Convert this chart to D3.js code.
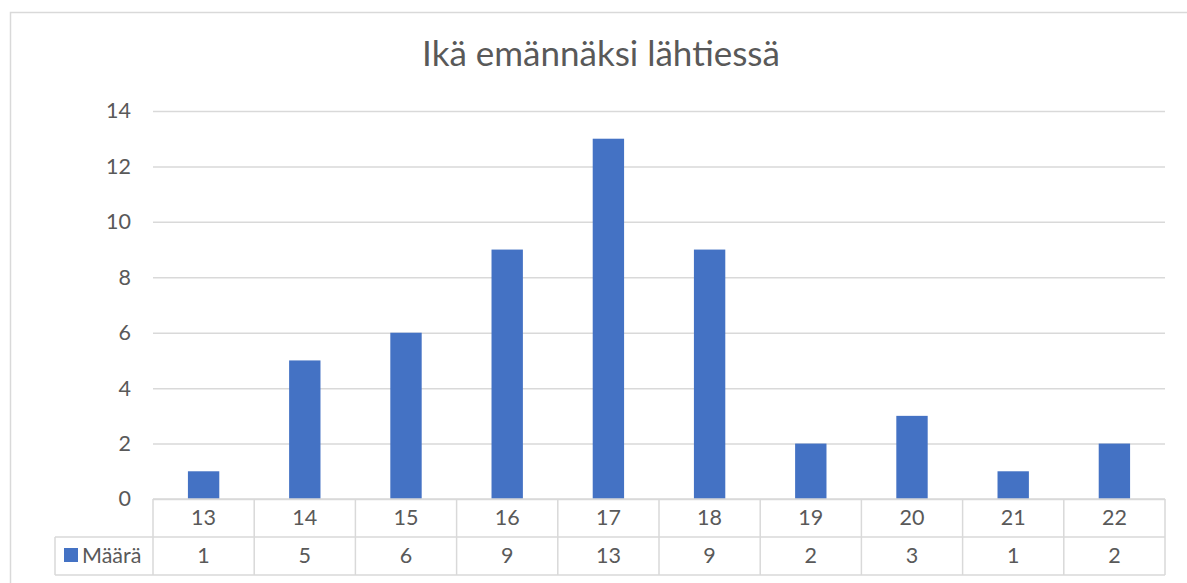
<!DOCTYPE html>
<html>
<head>
<meta charset="utf-8">
<script src="https://cdn.jsdelivr.net/npm/d3@7"></script>
<style>
  body { margin: 0; background: #fff; }
  svg { display: block; font-family: Lato, "Open Sans", sans-serif; }
</style>
</head>
<body>
<div id="chart"></div>
<script>
// données
const title = "Ikä emännäksi lähtiessä";
const seriesName = "Määrä";
const ages = ["13", "14", "15", "16", "17", "18", "19", "20", "21", "22"];
const counts = [1, 5, 6, 9, 13, 9, 2, 3, 1, 2];
const yTicks = [0, 2, 4, 6, 8, 10, 12, 14];

const width = 1187;
const height = 583;
const margin = {left: 153, right: 22, top: 111, bottom: 84};
const rowH = 38;
const blue = "#4472c4";
const textCol = "#595959";
const lineCol = "#d9d9d9";
const fs = 21.5;

const svg = d3.select("#chart").append("svg")
    .attr("width", width)
    .attr("height", height);

// cadre du graphique
svg.append("rect")
    .attr("x", 10.5).attr("y", 12.5)
    .attr("width", 1200).attr("height", 600)
    .attr("fill", "none").attr("stroke", lineCol).attr("stroke-width", 1.5);

const x = d3.scaleBand()
    .domain(ages)
    .range([margin.left, width - margin.right])
    .paddingInner(0.69).paddingOuter(0.345);

const xCell = d3.scaleBand()
    .domain(ages)
    .range([margin.left, width - margin.right]);

const y = d3.scaleLinear()
    .domain([0, 14])
    .range([height - margin.bottom, margin.top]);

// titre
svg.append("text")
    .attr("x", 601).attr("y", 66)
    .attr("text-anchor", "middle")
    .attr("fill", textCol)
    .attr("font-size", 35)
    .text(title);

// axe y et grille
const yAxis = svg.append("g")
    .attr("transform", `translate(${margin.left},0)`)
    .call(d3.axisLeft(y).tickValues(yTicks).tickSize(-(width - margin.left - margin.right)).tickPadding(22));
yAxis.select(".domain").remove();
yAxis.selectAll(".tick line").attr("stroke", lineCol).attr("stroke-width", 1.5);
yAxis.selectAll(".tick text").attr("fill", textCol).attr("font-size", fs).attr("font-family", "Lato, sans-serif");

// barres
svg.append("g").selectAll("rect")
    .data(counts)
    .join("rect")
    .attr("x", (d, i) => x(ages[i]))
    .attr("y", d => y(d))
    .attr("width", x.bandwidth())
    .attr("height", d => y(0) - y(d))
    .attr("fill", blue);

// tableau de données
const y0 = y(0);
const table = svg.append("g").attr("stroke", lineCol).attr("stroke-width", 1.5).attr("fill", "none");
table.append("line").attr("x1", margin.left).attr("x2", width - margin.right).attr("y1", y0).attr("y2", y0);
table.append("line").attr("x1", 55).attr("x2", width - margin.right).attr("y1", y0 + rowH).attr("y2", y0 + rowH);
table.append("line").attr("x1", 55).attr("x2", width - margin.right).attr("y1", y0 + 2 * rowH).attr("y2", y0 + 2 * rowH);
table.append("line").attr("x1", 55).attr("x2", 55).attr("y1", y0 + rowH).attr("y2", y0 + 2 * rowH);
table.selectAll("line.col")
    .data(ages)
    .join("line")
    .attr("class", "col")
    .attr("x1", d => xCell(d)).attr("x2", d => xCell(d))
    .attr("y1", y0).attr("y2", y0 + 2 * rowH);
table.append("line")
    .attr("x1", width - margin.right).attr("x2", width - margin.right)
    .attr("y1", y0).attr("y2", y0 + 2 * rowH);

svg.append("g").selectAll("text")
    .data(ages)
    .join("text")
    .attr("x", d => xCell(d) + xCell.bandwidth() / 2)
    .attr("y", y0 + 26)
    .attr("text-anchor", "middle")
    .attr("fill", textCol).attr("font-size", fs)
    .text(d => d);

svg.append("g").selectAll("text")
    .data(counts)
    .join("text")
    .attr("x", (d, i) => xCell(ages[i]) + xCell.bandwidth() / 2)
    .attr("y", y0 + rowH + 26)
    .attr("text-anchor", "middle")
    .attr("fill", textCol).attr("font-size", fs)
    .text(d => d);

// légende dans le tableau
svg.append("rect")
    .attr("x", 64).attr("y", y0 + rowH + 11)
    .attr("width", 14).attr("height", 14)
    .attr("fill", blue);
svg.append("text")
    .attr("x", 82).attr("y", y0 + rowH + 26)
    .attr("fill", textCol).attr("font-size", fs)
    .text(seriesName);
</script>
</body>
</html>
